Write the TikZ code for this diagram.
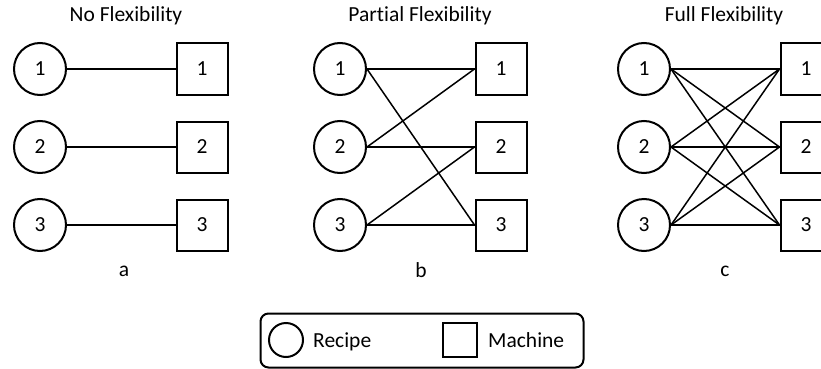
\documentclass[tikz,border=0pt]{standalone}
\usepackage{fontspec}
\setmainfont{Carlito}[Ligatures=NoCommon]
\begin{document}
\begin{tikzpicture}[x=1pt,y=-1pt,
  every node/.style={font=\fontsize{21.5}{25}\selectfont, inner sep=0pt},
  recipe/.style={circle, draw, line width=2pt, minimum size=52pt},
  machine/.style={rectangle, draw, line width=2pt, minimum size=51pt},
  link/.style={line width=1.5pt},
  caption/.style={anchor=center}]
\useasboundingbox (0,0) rectangle (821,369);

% three panels: recipes on the left, machines on the right
\foreach \p/\cx/\mx in {a/40/202, b/340/501, c/644/806} {
  \foreach \i/\y in {1/69, 2/147, 3/225} {
    \node[recipe]  (\p r\i) at (\cx,\y) {\i};
    \node[machine] (\p m\i) at (\mx,\y) {\i};
  }
}

% titles and panel letters
\node[caption] (ta) at (126,16) {No Flexibility};
\node[caption] (tb) at (420,16) {Partial Flexibility};
\node[caption] (tc) at (724,16) {Full Flexibility};
\node[caption] (la) at (124,271) {a};
\node[caption] (lb) at (421,270) {b};
\node[caption] (lc) at (725,271) {c};

% (a) one machine per recipe
\foreach \i in {1,2,3}
  \draw[link] (ar\i.east) -- (am\i.west);

% (b) each recipe runs on two machines
\foreach \i/\j in {1/1, 1/3, 2/1, 2/2, 3/2, 3/3}
  \draw[link] (br\i.east) -- (bm\j.west);

% (c) every recipe runs on every machine
\foreach \i in {1,2,3}
  \foreach \j in {1,2,3}
    \draw[link] (cr\i.east) -- (cm\j.west);

% legend
\node[draw, line width=2pt, rounded corners=8pt, minimum width=323pt,
      minimum height=54pt] (legend) at (422,340.5) {};
\node[circle, draw, line width=2pt, minimum size=34pt] (lrec) at (286,340) {};
\node[anchor=base west] (lrect) at (313,347.5) {Recipe};
\node[rectangle, draw, line width=2pt, minimum size=34pt] (lmac) at (460,340) {};
\node[anchor=base west] (lmact) at (488,347.5) {Machine};
\end{tikzpicture}
\end{document}
